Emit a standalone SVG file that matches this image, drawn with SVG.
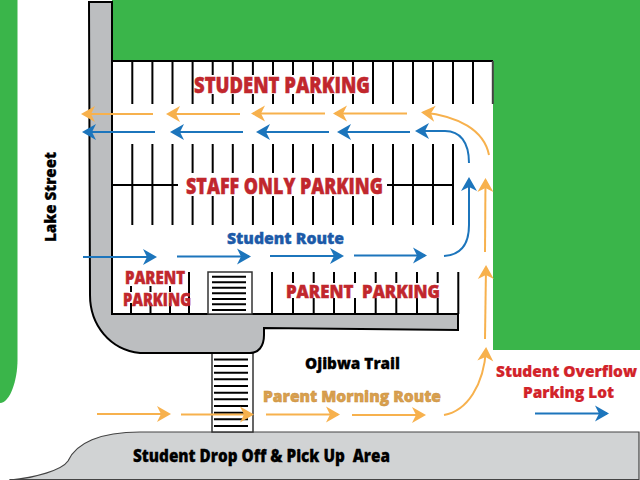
<svg xmlns="http://www.w3.org/2000/svg" width="640" height="480" viewBox="0 0 640 480">
<style>
text{font-family:"Open Sans","Noto Sans","Liberation Sans",sans-serif;font-weight:800;}
.red{fill:#c1272d;stroke:#c1272d;stroke-width:.5}
.blk{fill:#000;stroke:#000;stroke-width:.3}
.ln{stroke:#000;stroke-width:2;fill:none}
.bar{stroke:#000;stroke-width:2;fill:none}
.o{stroke:#f7b14d;stroke-width:2;fill:none;marker-end:url(#ao)}
.b{stroke:#1c75bc;stroke-width:2;fill:none;marker-end:url(#ab)}
</style>
<defs>
<marker id="ao" markerUnits="userSpaceOnUse" markerWidth="18" markerHeight="20" refX="12" refY="9" orient="auto" overflow="visible"><path d="M0,1 L14,9 L0,17 L4,9Z" fill="#f7b14d"/></marker>
<marker id="ab" markerUnits="userSpaceOnUse" markerWidth="18" markerHeight="20" refX="12" refY="9" orient="auto" overflow="visible"><path d="M0,1 L14,9 L0,17 L4,9Z" fill="#1c75bc"/></marker>
</defs>
<rect width="640" height="480" fill="#fff"/>
<g id="green">
<path d="M0,0H17.500V360C17.500,380 10,403 0,403Z" fill="#3ab54a"/>
<path d="M112,0H640V350H493V60H112Z" fill="#3ab54a"/>
</g>
<g id="drop-off-area">
<path d="M10,480C35,478 62,470 68,461C76,443 100,432 140,432H639V479.500H10Z" fill="#d1d3d4" stroke="#444" stroke-width="1.200"/>
</g>
<g id="crosswalk-lower">
<rect x="212" y="353" width="41" height="79" fill="#fff" stroke="#333" stroke-width="1.500"/>
<path class="bar" d="M214,359.500H248M214,366H248M214,372.700H248M214,379.300H248M214,386H248M214,392.700H248M214,399.300H248M214,406H248M214,412.700H248M214,419.300H248M214,426H248"/>
</g>
<g id="road">
<path d="M89,2H112V314H458V330L264,328V335C264,347 258,353 250,353H140C110,350 90,325 90,295Z" fill="#bcbec0" stroke="#000" stroke-width="2"/>
</g>
<g id="parking-lines">
<path class="ln" d="M112,61H493"/>
<path class="ln" d="M132.300,61V104M152.400,61V104M172.500,61V104M192.600,61V104M212.700,61V104M232.800,61V104M252.900,61V104M273,61V104M293,61V104M313,61V104M333,61V104M353,61V104M373,61V104M393,61V104M413,61V104M433,61V104M453,61V104M473,61V104"/>
<path d="M492.800,61V104" stroke="#444" stroke-width="2"/>
<path class="ln" d="M132.300,144V225M152.400,144V225M172.500,144V225M192.600,144V225M212.700,144V225M232.800,144V225M252.900,144V225M273,144V225M293,144V225M313,144V225M333,144V225M353,144V225M373,144V225M393,144V225M413,144V225M433,144V225M453,144V225"/>
<path class="ln" d="M112,185H178M387,185H452"/>
<path class="ln" d="M131,272V314M150.500,272V314M170,272V314M189,272V314"/>
<path class="ln" d="M272,272V314M293,272V314M313.700,272V314M334,272V314M355,272V314M375.700,272V314M396.300,272V314M417,272V314M437.700,272V314M458.300,272V314"/>
<rect x="194" y="75" width="176" height="19" fill="#fff"/>
<rect x="186" y="173" width="198" height="23" fill="#fff"/>
<rect x="124" y="270" width="63" height="16" fill="#fff"/>
<rect x="122" y="292" width="66" height="11" fill="#fff"/>
<rect x="284" y="283" width="158" height="15" fill="#fff"/>
</g>
<g id="crosswalk-upper">
<rect x="208" y="272" width="44" height="42" fill="#fff" stroke="#333" stroke-width="1.500"/>
<path class="bar" d="M212,276.700H246M212,282.300H246M212,287.700H246M212,293.300H246M212,299H246M212,304.300H246M212,310H246"/>
</g>
<g id="labels">
<text class="red" x="194" y="92.500" font-size="23" textLength="176" lengthAdjust="spacingAndGlyphs">STUDENT PARKING</text>
<text class="red" x="186" y="194" font-size="23" textLength="197" lengthAdjust="spacingAndGlyphs">STAFF ONLY PARKING</text>
<text x="227" y="244" font-size="16" fill="#1c5aa8" stroke="#1c5aa8" stroke-width=".4" textLength="117" lengthAdjust="spacingAndGlyphs">Student Route</text>
<text class="red" x="125" y="284" font-size="18" textLength="60" lengthAdjust="spacingAndGlyphs">PARENT</text>
<text class="red" x="123" y="306" font-size="18" textLength="68" lengthAdjust="spacingAndGlyphs">PARKING</text>
<text class="red" x="286" y="298" font-size="18" textLength="154" lengthAdjust="spacingAndGlyphs" xml:space="preserve">PARENT  PARKING</text>
<text class="blk" x="305" y="369" font-size="16" textLength="95" lengthAdjust="spacingAndGlyphs">Ojibwa Trail</text>
<text x="263" y="402" font-size="16.500" fill="#d9a04e" stroke="#c98f3c" stroke-width=".5" textLength="178" lengthAdjust="spacingAndGlyphs">Parent Morning Route</text>
<text x="496" y="377" font-size="15" fill="#d2232a" stroke="#d2232a" stroke-width=".2" textLength="141" lengthAdjust="spacingAndGlyphs">Student Overflow</text>
<text x="523" y="398" font-size="15" fill="#d2232a" stroke="#d2232a" stroke-width=".2" textLength="91" lengthAdjust="spacingAndGlyphs">Parking Lot</text>
<text class="blk" x="133" y="462" font-size="17" textLength="257" lengthAdjust="spacingAndGlyphs" xml:space="preserve">Student Drop Off &amp; Pick Up  Area</text>
<text class="blk" transform="translate(56,242) rotate(-90)" font-size="15" textLength="90" lengthAdjust="spacingAndGlyphs">Lake Street</text>
</g>
<g id="connectors">
<path class="o" d="M153,114H83"/>
<path class="o" d="M240,114H168"/>
<path class="o" d="M325,113.500H253"/>
<path class="o" d="M407,113.500H335"/>
<path class="o" d="M489,155C484,130 458,116 423,112.500"/>
<path class="b" d="M155,132H84"/>
<path class="b" d="M243,132H172"/>
<path class="b" d="M329,132H258"/>
<path class="b" d="M410,132H339"/>
<path class="b" d="M469,163C469,142 460,131 445,131H417"/>
<path class="b" d="M444,256C460,255 469,245 469,225V179"/>
<path class="o" d="M485,252L485.500,180"/>
<path class="o" d="M485,339L486,267"/>
<path class="o" d="M444,415C467,411 484,385 486,349"/>
<path class="b" d="M83,257H155"/>
<path class="b" d="M177,256.500H249"/>
<path class="b" d="M270,256H342"/>
<path class="b" d="M354,255.500H425"/>
<path class="o" d="M97,414H169"/>
<path class="o" d="M181,414.500H252"/>
<path class="o" d="M266,414.500H338"/>
<path class="o" d="M352,415H424"/>
<path class="b" d="M535,413.500H607"/>
</g>
</svg>
